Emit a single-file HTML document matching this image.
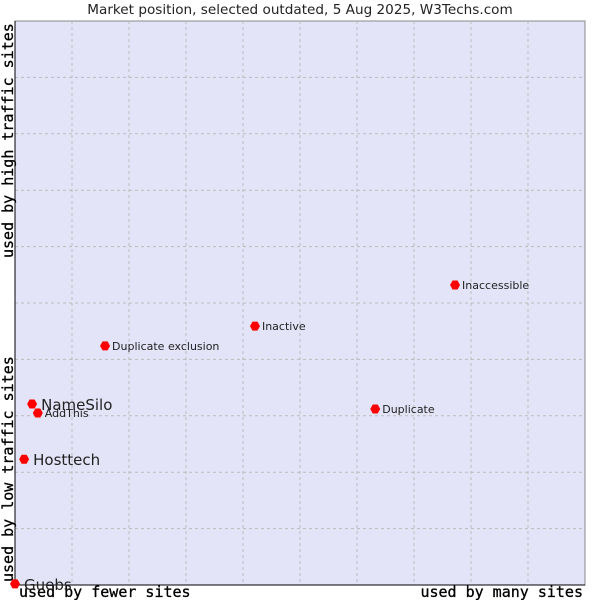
<!DOCTYPE html>
<html><head><meta charset="utf-8"><style>body{margin:0;background:#fff}svg{display:block;font-family:"DejaVu Sans","Liberation Sans",sans-serif}</style></head>
<body>
<svg id="c" width="600" height="600">
<text x="300" y="14" text-anchor="middle" font-size="13.6" fill="#222">Market position, selected outdated, 5 Aug 2025, W3Techs.com</text>
<rect x="15" y="21" width="570" height="564" fill="#e4e4f8" stroke="#888"/>
<g id="grid"></g>
<line x1="15" y1="21" x2="15" y2="585" stroke="#000"/>
<line x1="15" y1="585" x2="585" y2="585" stroke="#000"/>
<text x="19" y="597" font-family="DejaVu Sans Mono" font-size="15" stroke="#000" stroke-width="0.3">used by fewer sites</text>
<text x="583" y="597" text-anchor="end" font-family="DejaVu Sans Mono" font-size="15" stroke="#000" stroke-width="0.3">used by many sites</text>
<text transform="translate(13,582) rotate(-90)" font-family="DejaVu Sans Mono" font-size="15" stroke="#000" stroke-width="0.3">used by low traffic sites</text>
<text transform="translate(13,258) rotate(-90)" font-family="DejaVu Sans Mono" font-size="15" stroke="#000" stroke-width="0.3">used by high traffic sites</text>
<g id="pts"></g>
</svg>
<script>
const names=["Guebs","Hosttech","NameSilo","AddThis","Duplicate exclusion","Inactive","Duplicate","Inaccessible"];
const xVals=[0,1.6,3.0,4.0,15.8,42.1,63.2,77.2];
const yVals=[0.2,22.3,32.1,30.5,42.4,45.9,31.2,53.2];
const big=[true,true,true,false,false,false,false,false];
const L=15,R=585,T=21,B=585;
const sx=v=>L+v/100*(R-L), sy=v=>B-v/100*(B-T);
const ns="http://www.w3.org/2000/svg";
const g=document.getElementById('grid');
for(let i=1;i<10;i++){
 const a=document.createElementNS(ns,'line');
 
 
 a.setAttribute('x1',sx(i*10));a.setAttribute('x2',sx(i*10));a.setAttribute('y1',T);a.setAttribute('y2',B);
 a.setAttribute('stroke','#bbb');a.setAttribute('stroke-dasharray','3,3');g.appendChild(a);
 const b=document.createElementNS(ns,'line');
 
 
 b.setAttribute('y1',sy(i*10));b.setAttribute('y2',sy(i*10));b.setAttribute('x1',L);b.setAttribute('x2',R);
 b.setAttribute('stroke','#bbb');b.setAttribute('stroke-dasharray','3,3');g.appendChild(b);
}
const p=document.getElementById('pts');
names.forEach((n,i)=>{
 const x=sx(xVals[i]),y=sy(yVals[i]);
 const c=document.createElementNS(ns,'path');
 
 
 c.setAttribute('d',`M${x-5},${y}L${x-2.5},${y-4.5}L${x+2.5},${y-4.5}L${x+5},${y}L${x+2.5},${y+4.5}L${x-2.5},${y+4.5}Z`);
 c.setAttribute('fill','#f00');p.appendChild(c);
 const t=document.createElementNS(ns,'text');
 
 
 t.setAttribute('x',x+(big[i]?9:7));t.setAttribute('y',y+(big[i]?6:4));
 t.setAttribute('font-size',big[i]?15:11);t.setAttribute('fill','#222');
 t.textContent=n;p.appendChild(t);
});
</script>
</body></html>
